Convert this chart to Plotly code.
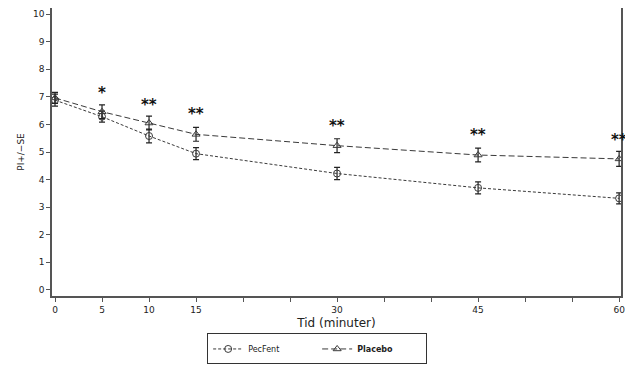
import plotly.graph_objects as go

times = [0, 5, 10, 15, 30, 45, 60]
pecfent = [6.88, 6.28, 5.58, 4.94, 4.22, 3.70, 3.32]
pecfent_se = [0.22, 0.2, 0.25, 0.22, 0.22, 0.22, 0.2]
placebo = [6.96, 6.46, 6.05, 5.64, 5.23, 4.89, 4.75]
placebo_se = [0.2, 0.25, 0.25, 0.25, 0.25, 0.25, 0.27]
sig_labels = ["", "*", "**", "**", "**", "**", "**"]
sig_y = [None, 7.15, 6.72, 6.38, 5.93, 5.6, 5.45]

x_ticks = [0, 5, 10, 15, 20, 25, 30, 35, 40, 45, 50, 55, 60]
x_ticktext = ["0", "5", "10", "15", "", "", "30", "", "", "45", "", "", "60"]
y_ticks = list(range(0, 11))

col = "#3a3a3a"
fig = go.Figure()
fig.add_trace(go.Scatter(
    x=times, y=pecfent, name="PecFent", mode="lines+markers",
    line=dict(color=col, width=1, dash="3px,2px"),
    marker=dict(symbol="circle-open", size=7, color=col, line=dict(width=1)),
    error_y=dict(type="data", array=pecfent_se, color="#222", thickness=1.2, width=3),
))
fig.add_trace(go.Scatter(
    x=times, y=placebo, name="<b>Placebo</b>", mode="lines+markers",
    line=dict(color=col, width=1, dash="6px,3px"),
    marker=dict(symbol="triangle-up-open", size=7, color=col, line=dict(width=1)),
    error_y=dict(type="data", array=placebo_se, color="#222", thickness=1.2, width=3),
))

for t, lab, yy in zip(times, sig_labels, sig_y):
    if lab:
        fig.add_annotation(x=t, y=yy, text="<b>" + lab + "</b>", showarrow=False,
                           font=dict(size=15, color="#111", family="DejaVu Sans"),
                           yanchor="middle")

# page body has an 8px default margin, so the figure is offset by (8, 8)
fig.update_layout(
    width=625, height=367,
    margin=dict(l=44, r=12, t=0, b=79, autoexpand=False),
    paper_bgcolor="white", plot_bgcolor="white",
    font=dict(family="DejaVu Sans", size=9, color="#222"),
    showlegend=True,
    legend=dict(orientation="h", x=0.466, xanchor="center", y=-0.13, yanchor="top",
                bordercolor="#333", borderwidth=1, font=dict(size=8),
                itemwidth=30, entrywidth=64, tracegroupgap=0),
    xaxis=dict(range=[-0.32, 60.2], tickvals=x_ticks, ticktext=x_ticktext,
               ticks="outside", ticklen=4, tickcolor="#555", showgrid=False, zeroline=False,
               showline=True, linecolor="#555", linewidth=1.5, mirror=True,
               title=dict(text="Tid (minuter)", font=dict(size=12), standoff=5)),
    yaxis=dict(range=[-0.22, 10.22], tickvals=y_ticks,
               ticks="outside", ticklen=4, tickcolor="#555", showgrid=False, zeroline=False,
               showline=True, linecolor="#555", linewidth=1.5, mirror=True,
               title=dict(text="PI+/\u2212SE", font=dict(size=9), standoff=7)),
)

fig.write_html("out.html")
